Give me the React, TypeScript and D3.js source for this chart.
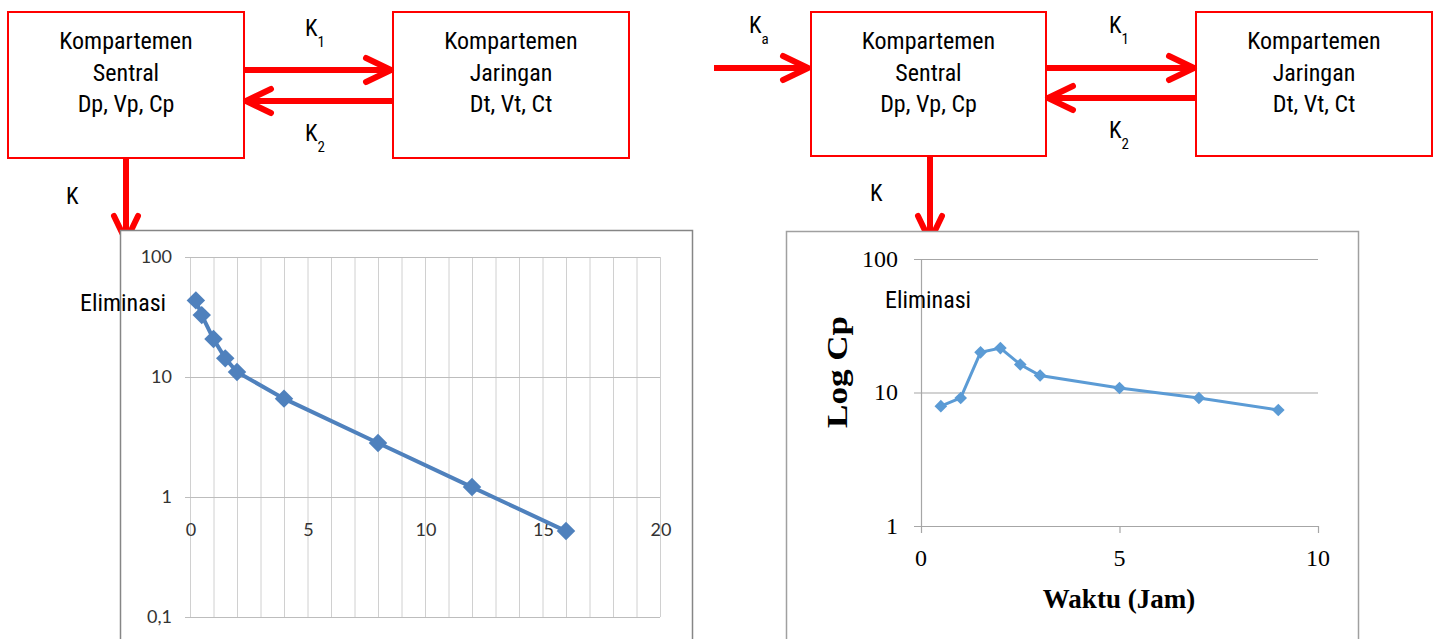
import React, { useEffect, useRef } from 'react';
import * as d3 from 'd3';

// diagram text
const centralLines = ['Kompartemen', 'Sentral', 'Dp, Vp, Cp'];
const tissueLines = ['Kompartemen', 'Jaringan', 'Dt, Vt, Ct'];

// left chart (iv bolus, elimination)
const elimTime = [0.25, 0.5, 1, 1.5, 2, 4, 8, 12, 16];
const elimConc = [43.5, 32.8, 20.7, 14.3, 11, 6.6, 2.82, 1.21, 0.52];
const elimXTicks = [0, 5, 10, 15, 20];
const elimYTicks = [0.1, 1, 10, 100];
const elimYLabels = ['0,1', '1', '10', '100'];

// right chart (oral dose)
const oralTime = [0.5, 1, 1.5, 2, 2.5, 3, 5, 7, 9];
const oralConc = [7.9, 9.1, 20, 21.5, 16.2, 13.4, 10.8, 9.1, 7.4];
const oralXTicks = [0, 5, 10];
const oralYTicks = [1, 10, 100];

const RED = '#ff0000';
const NARROW = "'Liberation Sans Narrow', 'Arial Narrow', 'Roboto Condensed', sans-serif";
const SERIF = "'Liberation Serif', 'Times New Roman', serif";
const CALIBRI = "Lato, 'Open Sans', sans-serif";

export default function App() {
  const ref = useRef<SVGSVGElement>(null);

  useEffect(() => {
    const svg = d3.select(ref.current);
    svg.selectAll('*').remove();

    // ---------- diagram helpers
    const box = (x: number, y: number, w: number, h: number, lines: string[]) => {
      svg.append('rect').attr('x', x).attr('y', y).attr('width', w).attr('height', h)
        .attr('fill', 'none').attr('stroke', RED).attr('stroke-width', 2);
      svg.append('g').selectAll('text').data(lines).enter().append('text')
        .attr('x', x + w / 2).attr('y', (d, i) => y + 37 + i * 31.5)
        .attr('text-anchor', 'middle')
        .style('font-family', NARROW).style('font-size', '24px').style('font-stretch', 'condensed')
        .text(d => d);
    };

    const arrow = (x1: number, y1: number, x2: number, y2: number) => {
      const ang = Math.atan2(y2 - y1, x2 - x1);
      const len = 25, half = 12;
      const bx = x2 - len * Math.cos(ang), by = y2 - len * Math.sin(ang);
      const px = -Math.sin(ang) * half, py = Math.cos(ang) * half;
      svg.append('line').attr('x1', x1).attr('y1', y1)
        .attr('x2', x2 - 2 * Math.cos(ang)).attr('y2', y2 - 2 * Math.sin(ang))
        .attr('stroke', RED).attr('stroke-width', 6);
      svg.append('path')
        .attr('d', `M${bx + px},${by + py}L${x2},${y2}L${bx - px},${by - py}`)
        .attr('fill', 'none').attr('stroke', RED).attr('stroke-width', 6)
        .attr('stroke-linecap', 'round').attr('stroke-linejoin', 'round');
    };

    const kLabel = (x: number, y: number, sub: string) => {
      const t = svg.append('text').attr('x', x).attr('y', y)
        .style('font-family', NARROW).style('font-size', '23px').style('font-stretch', 'condensed');
      t.append('tspan').text('K');
      if (sub) t.append('tspan').attr('dy', 11).style('font-size', '15px').text(sub);
    };

    // ---------- left diagram
    box(8, 12, 236, 146, centralLines);
    box(393, 12, 236, 146, tissueLines);
    arrow(244, 70, 391, 70);
    arrow(393, 101, 246, 101);
    arrow(126, 158, 126, 241);
    kLabel(305, 36, '1');
    kLabel(305, 141, '2');
    kLabel(66, 204, '');

    // ---------- right diagram
    box(811, 12, 235, 144, centralLines);
    box(1196, 12, 236, 144, tissueLines);
    arrow(714, 68, 808, 68);
    arrow(1046, 68, 1194, 68);
    arrow(1196, 98, 1048, 98);
    arrow(930, 156, 930, 241);
    kLabel(749, 33, 'a');
    kLabel(1109, 33, '1');
    kLabel(1109, 138, '2');
    kLabel(870, 201, '');

    // ---------- left chart
    {
      svg.append('rect').attr('x', 120.5).attr('y', 230.5).attr('width', 572).attr('height', 440)
        .attr('fill', 'white').attr('stroke', '#868686').attr('stroke-width', 1.5);

      const x = d3.scaleLinear().domain([0, 20]).range([190, 660]);
      const y = d3.scaleLog().domain([0.1, 100]).range([617, 257]);
      const g = svg.append('g');

      // vertical gridlines, every unit
      g.append('g').selectAll('line').data(d3.range(0, 21)).enter().append('line')
        .attr('x1', d => x(d) + 0.5).attr('x2', d => x(d) + 0.5)
        .attr('y1', y(100)).attr('y2', y(0.1))
        .attr('stroke', '#d0d0d0').attr('stroke-width', 1);
      // horizontal gridlines
      g.append('g').selectAll('line').data(elimYTicks).enter().append('line')
        .attr('x1', x(0) - 5).attr('x2', x(20))
        .attr('y1', d => y(d) + 0.5).attr('y2', d => y(d) + 0.5)
        .attr('stroke', '#bdbdbd').attr('stroke-width', 1.2);

      g.append('g').selectAll('text').data(elimYTicks).enter().append('text')
        .attr('x', 172).attr('y', d => y(d)).attr('dy', '0.35em')
        .attr('text-anchor', 'end')
        .style('font-family', CALIBRI).style('font-size', '18px').attr('fill', '#333')
        .text((d, i) => elimYLabels[i]);
      g.append('g').selectAll('text').data(elimXTicks).enter().append('text')
        .attr('x', d => x(d) + 1).attr('y', y(1) + 39)
        .attr('text-anchor', 'middle')
        .style('font-family', CALIBRI).style('font-size', '18px').attr('fill', '#333')
        .text(d => String(d));

      const pts = elimTime.map((t, i) => [t, elimConc[i]] as [number, number]);
      g.append('path').datum(pts)
        .attr('d', d3.line<[number, number]>().x(d => x(d[0])).y(d => y(d[1])))
        .attr('fill', 'none').attr('stroke', '#4f81bd').attr('stroke-width', 4);
      const sym = d3.symbol().type(d3.symbolSquare).size(170);
      g.append('g').selectAll('path').data(pts).enter().append('path')
        .attr('d', sym())
        .attr('transform', d => `translate(${x(d[0])},${y(d[1])}) rotate(45)`)
        .attr('fill', '#4f81bd');

      svg.append('text').attr('x', 80).attr('y', 311)
        .style('font-family', NARROW).style('font-size', '24px').style('font-stretch', 'condensed')
        .text('Eliminasi');
    }

    // ---------- right chart
    {
      svg.append('rect').attr('x', 786.5).attr('y', 231.5).attr('width', 572).attr('height', 440)
        .attr('fill', 'white').attr('stroke', '#a0a0a0').attr('stroke-width', 1.5);

      const x = d3.scaleLinear().domain([0, 10]).range([921, 1318]);
      const y = d3.scaleLog().domain([1, 100]).range([526, 259]);
      const g = svg.append('g');

      g.append('g').selectAll('line').data(oralYTicks).enter().append('line')
        .attr('x1', x(0) - 7).attr('x2', x(10))
        .attr('y1', d => y(d) + 0.5).attr('y2', d => y(d) + 0.5)
        .attr('stroke', '#a6a6a6').attr('stroke-width', 1.2);
      g.append('line').attr('x1', x(0) + 0.5).attr('x2', x(0) + 0.5)
        .attr('y1', y(100)).attr('y2', y(1) + 7)
        .attr('stroke', '#a6a6a6').attr('stroke-width', 1.2);
      g.append('g').selectAll('line').data(oralXTicks.slice(1)).enter().append('line')
        .attr('x1', d => x(d) + 0.5).attr('x2', d => x(d) + 0.5)
        .attr('y1', y(1)).attr('y2', y(1) + 7)
        .attr('stroke', '#a6a6a6').attr('stroke-width', 1.2);

      g.append('g').selectAll('text').data(oralYTicks).enter().append('text')
        .attr('x', 898).attr('y', d => y(d)).attr('dy', '0.33em')
        .attr('text-anchor', 'end')
        .style('font-family', SERIF).style('font-size', '24px')
        .text(d => String(d));
      g.append('g').selectAll('text').data(oralXTicks).enter().append('text')
        .attr('x', d => x(d)).attr('y', 566)
        .attr('text-anchor', 'middle')
        .style('font-family', SERIF).style('font-size', '24px')
        .text(d => String(d));

      const pts = oralTime.map((t, i) => [t, oralConc[i]] as [number, number]);
      g.append('path').datum(pts)
        .attr('d', d3.line<[number, number]>().x(d => x(d[0])).y(d => y(d[1])))
        .attr('fill', 'none').attr('stroke', '#5b9bd5').attr('stroke-width', 3);
      const sym = d3.symbol().type(d3.symbolSquare).size(80);
      g.append('g').selectAll('path').data(pts).enter().append('path')
        .attr('d', sym())
        .attr('transform', d => `translate(${x(d[0])},${y(d[1])}) rotate(45)`)
        .attr('fill', '#5b9bd5');

      svg.append('text').attr('x', 1119).attr('y', 608)
        .attr('text-anchor', 'middle')
        .style('font-family', SERIF).style('font-size', '27px').style('font-weight', 'bold')
        .text('Waktu (Jam)');
      svg.append('text')
        .attr('transform', `translate(847,372) rotate(-90)`)
        .attr('text-anchor', 'middle')
        .attr('textLength', 112).attr('lengthAdjust', 'spacingAndGlyphs')
        .style('font-family', SERIF).style('font-size', '29px').style('font-weight', 'bold')
        .text('Log Cp');

      svg.append('text').attr('x', 885).attr('y', 308)
        .style('font-family', NARROW).style('font-size', '24px').style('font-stretch', 'condensed')
        .text('Eliminasi');
    }
  }, []);

  return (
    <svg
      ref={ref}
      width={1440}
      height={639}
      style={{ position: 'absolute', left: 0, top: 0, background: 'white' }}
    />
  );
}
